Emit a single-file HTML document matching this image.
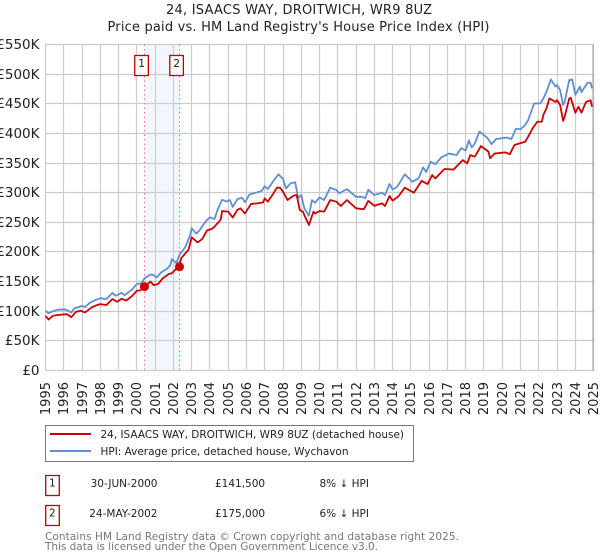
<!DOCTYPE html>
<html lang="en">
<head>
<meta charset="utf-8">
<title>24, Isaacs Way, Droitwich - Price paid vs. HPI</title>
<style>
html,body{margin:0;padding:0;background:#fff;}
svg{display:block;font-family:"DejaVu Sans","Liberation Sans",sans-serif;}
</style>
</head>
<body>
<svg id="chart" xmlns="http://www.w3.org/2000/svg" width="600" height="560" viewBox="0 0 600 560">
  <rect x="0" y="0" width="600" height="560" fill="#ffffff"/>
  <text x="299" y="14" font-size="13" text-anchor="middle" textLength="266" fill="#222">24, ISAACS WAY, DROITWICH, WR9 8UZ</text>
  <text x="298.5" y="31" font-size="13" text-anchor="middle" textLength="382" fill="#222">Price paid vs. HM Land Registry's House Price Index (HPI)</text>
  <g id="plot"></g>

  <g>
    <rect x="45.5" y="425.5" width="368" height="36" fill="#fff" stroke="#777" stroke-width="1"/>
    <line x1="50" x2="91" y1="434" y2="434" stroke="#cc0000" stroke-width="2"/>
    <text x="100.5" y="438" font-size="10.5" textLength="303.5" fill="#222">24, ISAACS WAY, DROITWICH, WR9 8UZ (detached house)</text>
    <line x1="50" x2="91" y1="451" y2="451" stroke="#5f8fd3" stroke-width="2"/>
    <text x="100.5" y="455" font-size="10.5" textLength="248" fill="#222">HPI: Average price, detached house, Wychavon</text>
  </g>

  <g>
    <rect x="45.7" y="475.5" width="13.6" height="20" fill="#fff" stroke="#c00000" stroke-width="1.3"/>
    <text x="52.4" y="486.5" font-size="10.5" text-anchor="middle" fill="#222">1</text>
    <text x="157.5" y="487" font-size="10.5" text-anchor="end" fill="#222">30-JUN-2000</text>
    <text x="215" y="487" font-size="10.5" fill="#222">£141,500</text>
    <text x="319.5" y="487" font-size="10.5" fill="#222">8% ↓ HPI</text>
  </g>
  <g>
    <rect x="45.7" y="505.5" width="13.6" height="20" fill="#fff" stroke="#c00000" stroke-width="1.3"/>
    <text x="52.4" y="516.5" font-size="10.5" text-anchor="middle" fill="#222">2</text>
    <text x="157.5" y="517" font-size="10.5" text-anchor="end" fill="#222">24-MAY-2002</text>
    <text x="215" y="517" font-size="10.5" fill="#222">£175,000</text>
    <text x="319.5" y="517" font-size="10.5" fill="#222">6% ↓ HPI</text>
  </g>
  <text x="45" y="540" font-size="10.5" textLength="414" fill="#777">Contains HM Land Registry data © Crown copyright and database right 2025.</text>
  <text x="45" y="550" font-size="10.5" textLength="333" fill="#777">This data is licensed under the Open Government Licence v3.0.</text>
</svg>
<script>
const yearLabels = [1995,1996,1997,1998,1999,2000,2001,2002,2003,2004,2005,2006,2007,2008,2009,2010,2011,2012,2013,2014,2015,2016,2017,2018,2019,2020,2021,2022,2023,2024,2025];
const priceTicks = [0,50,100,150,200,250,300,350,400,450,500,550];
const priceTickLabels = ["£0","£50K","£100K","£150K","£200K","£250K","£300K","£350K","£400K","£450K","£500K","£550K"];

const hpiMonths = [0,2,5,8,13,17,19,24,26,29,33,36,40,44,46,50,52,57,60,63,65,69,71,73,76,80,82,83,86,88,92,95,96,99,101,105,108,111,113,116,119,121,123,126,129,131,134,139,142,144,146,150,153,156,158,161,164,166,168,170,173,175,177,180,183,187,191,193,198,204,208,210,212,216,221,223,226,228,231,236,241,245,248,250,253,256,260,265,270,273,276,278,280,282,285,290,293,296,303,306,309,312,315,317,321,325,327,329,332,335,336,338,340,341,344,346,348,351,352,356,358,359];
const hpiValues = [101,96.5,100,102.6,103,98,105,108.8,107,114,119,122,120.6,131,126,131,127,137,146,147,155.5,162,161,157,165.5,172,178,188,181,195,209,228.6,240,231,236,251,258.5,255.6,271,288,285,287.6,276,289,291.5,284,297,300.6,303,311,306,321,331,323,307,316,317.5,290.5,296,273.6,261,287.6,283,292,287.6,308.4,304.5,299,306,293,293,290.5,305,296,300,296,314.6,305.6,310,331,318.5,324,342.7,335,352,348,359.6,366,363.5,375,371,388,376.5,383,403,393,382,390.5,393,390.5,408,407,414,422.5,450.7,450.7,459,470,491,479,481.6,473,448,453.4,490,491,465,479,469.6,485.5,485.5,476];

const paidMonths = [0,2,5,8,14,17,20,23,26,30,34,36,40,44,47,50,53,57,60,62,65,69,71,74,77,81,83,86,88,89,94,96,100,103,106,110,115,116,120,123,126,128,131,135,139,143,144,146,149,152,154,156,159,163,165,167,169,173,176,177,180,183,187,191,194,198,204,209,210,212,216,221,223,226,228,232,236,242,247,251,254,256,262,268,274,277,279,282,286,291,292,295,302,305,308,315,316,318,320,323,326,327,329,331,335,336,338,340,341,344,345,348,350,352,355,358,359];
const paidValues = [92,86,92.4,93.6,95,90,99,101,98,106,110.5,112,110.5,120.6,116,121,118,126,134.6,135,141.5,150,144,146,155.5,162.8,164,172,175,189,204,224.7,216,222,236,240,254,269,268,258,271,273.6,265,281,282,283.7,290.5,284.8,296,308.4,308.4,301.6,287.6,295,296,270.7,268,245.4,268,265,269,268,287.6,284.8,277.5,287.6,273.6,272,276.3,286,278,282,277.5,294.4,286.5,294.4,308.4,300,320,314.6,329.8,324,340,339,355,349.5,363.5,360.7,378.7,369,358,366,368,365,380.4,386,390,399,408.6,419.7,419.7,431,442,459,453,456,448,421,428,459,460,435,445,435,453,456,445];

const saleMonths = [65,88];
const saleValues = [141.5,175];
const saleLabels = ["1","2"];

const NS = "http://www.w3.org/2000/svg";
const plot = document.getElementById("plot");
const LEFT = 45.5, PX_PER_YEAR = 18.27, ZERO_Y = 370.5, TOP_Y = 44.5, MAX_K = 550;

function xScale(month){ return LEFT + month / 12 * PX_PER_YEAR; }
function yScale(k){ return ZERO_Y - k / MAX_K * (ZERO_Y - TOP_Y); }
function snap(v){ return Math.floor(v) + 0.5; }
function make(tag, attrs){
  const el = document.createElementNS(NS, tag);
  for (const k in attrs) el.setAttribute(k, attrs[k]);
  plot.appendChild(el);
  return el;
}
function pathFrom(months, values){
  return months.map((m,i)=>(i?"L":"M")+xScale(m).toFixed(2)+" "+yScale(values[i]).toFixed(2)).join(" ");
}

/* shaded band between the two sales */
const band = make("rect",{x:xScale(saleMonths[0]),y:TOP_Y,width:xScale(saleMonths[1])-xScale(saleMonths[0]),height:ZERO_Y-TOP_Y,fill:"#f3f6fe"});



/* gridlines + tick labels */
yearLabels.forEach((yr,i)=>{
  const x = snap(xScale(i*12));
  const g = make("line",{x1:x,x2:x,y1:TOP_Y,y2:ZERO_Y,stroke:"#cccccc","stroke-width":1.2});
  
  
  const t = make("text",{x:x+4.5,y:382,"font-size":13,"text-anchor":"end",fill:"#222",transform:"rotate(-90 "+(x+4.5)+" 382)"});
  
  
  t.textContent = yr;
});
priceTicks.forEach((k,i)=>{
  const y = snap(yScale(k));
  const g = make("line",{x1:LEFT,x2:594.5,y1:y,y2:y,stroke:"#cccccc","stroke-width":1.2});
  
  
  const t = make("text",{x:39.5,y:y+4.5,"font-size":13.5,"text-anchor":"end",fill:"#222"});
  
  
  t.textContent = priceTickLabels[i];
});
const rightEdge = make("line",{x1:593,x2:593,y1:TOP_Y,y2:ZERO_Y,stroke:"#999999","stroke-width":1});



/* sale date guide lines */
saleMonths.forEach((m)=>{
  const x = xScale(m);
  const l = make("line",{x1:x,x2:x,y1:TOP_Y,y2:ZERO_Y,stroke:"#ff6b6b","stroke-width":1,"stroke-dasharray":"1.5 3"});
  
  
});

/* series */
const hpiLine = make("path",{d:pathFrom(hpiMonths,hpiValues),fill:"none",stroke:"#5f8fd3","stroke-width":1.8,"stroke-linejoin":"round"});


const paidLine = make("path",{d:pathFrom(paidMonths,paidValues),fill:"none",stroke:"#cc0000","stroke-width":1.8,"stroke-linejoin":"round"});



/* sale markers and flags */
saleMonths.forEach((m,i)=>{
  const x = xScale(m);
  const dot = make("circle",{cx:x,cy:yScale(saleValues[i]),r:4.5,fill:"#cc0000"});
  
  
  const box = make("rect",{x:x-9.7,y:55.5,width:13.6,height:20,fill:"#fff",stroke:"#c00000","stroke-width":1.3});
  
  
  const t = make("text",{x:x-2.9,y:67,"font-size":11,"text-anchor":"middle",fill:"#222"});
  
  
  t.textContent = saleLabels[i];
});
</script>
</body>
</html>
